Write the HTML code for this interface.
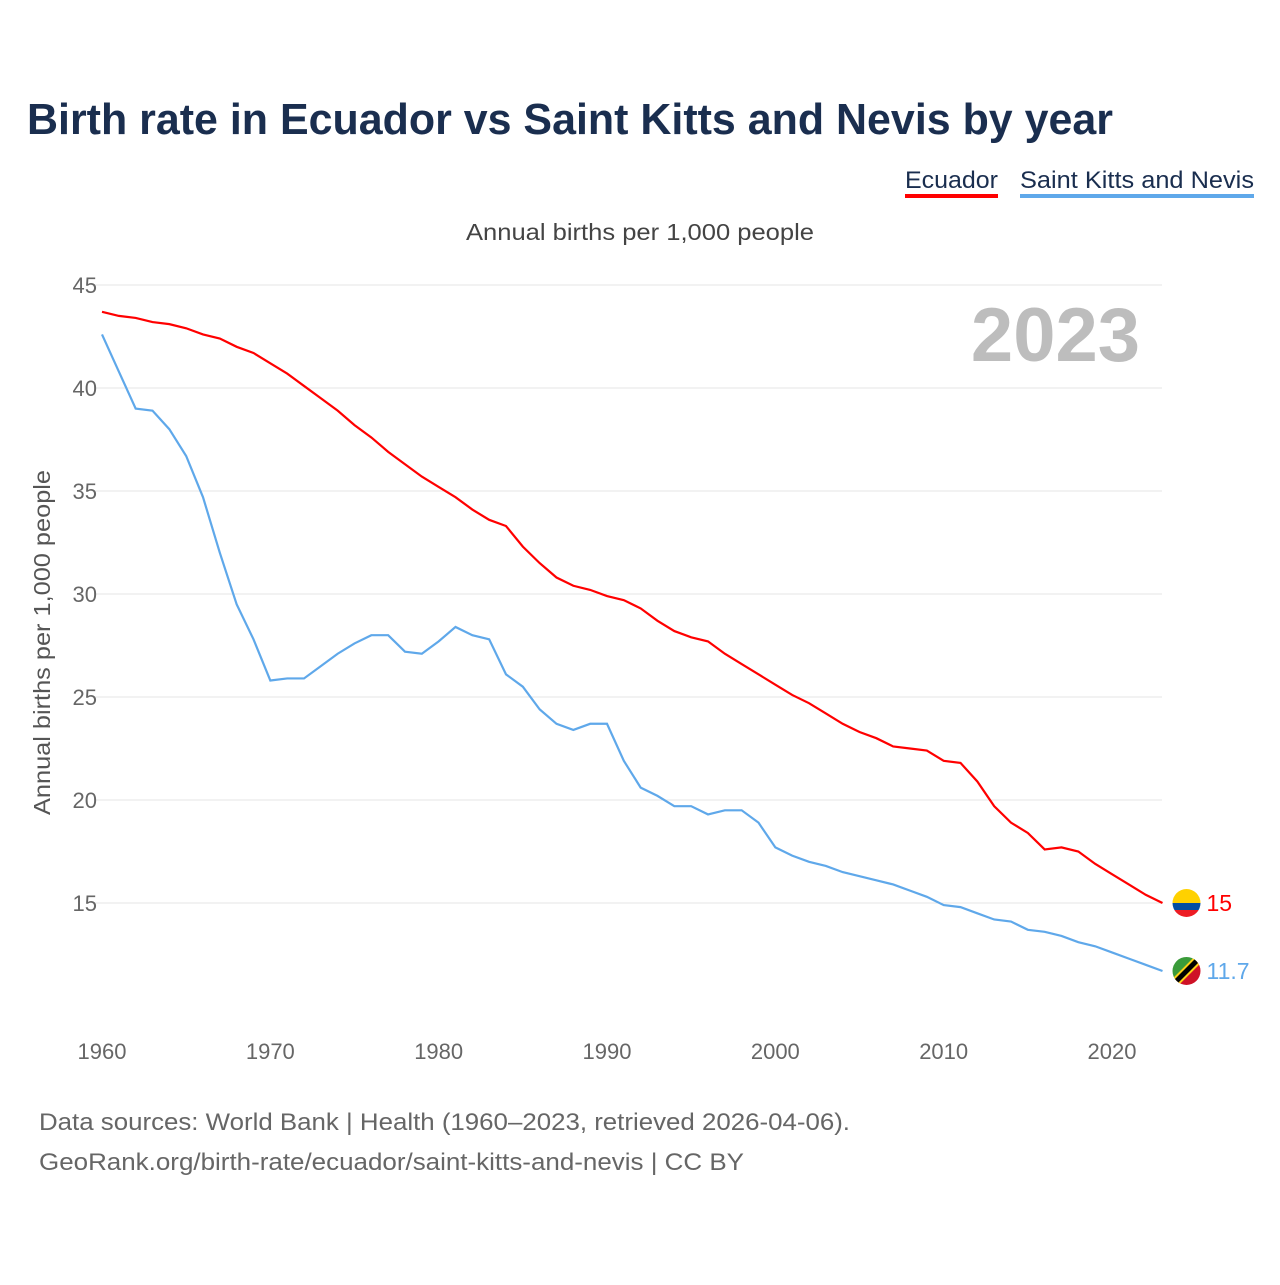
<!DOCTYPE html>
<html><head><meta charset="utf-8"><style>
body{margin:0;background:#fff;font-family:"Liberation Sans",sans-serif}
</style></head><body>
<svg id="chart" width="1280" height="1280" xmlns="http://www.w3.org/2000/svg" font-family="Liberation Sans, sans-serif">
<rect width="1280" height="1280" fill="#fff"/>
<text x="27" y="134" font-size="44" font-weight="bold" fill="#1a2e4f" textLength="1086" lengthAdjust="spacingAndGlyphs">Birth rate in Ecuador vs Saint Kitts and Nevis by year</text>
<g><text x="905" y="188" font-size="24" fill="#1a2e4f" textLength="93" lengthAdjust="spacingAndGlyphs">Ecuador</text><rect x="905" y="194" width="93" height="4" fill="#ff0000"/></g>
<g><text x="1020" y="188" font-size="24" fill="#1a2e4f" textLength="234" lengthAdjust="spacingAndGlyphs">Saint Kitts and Nevis</text><rect x="1020" y="194" width="234" height="4" fill="#5fa8ea"/></g>
<text x="466" y="240" font-size="23" fill="#444" textLength="348" lengthAdjust="spacingAndGlyphs">Annual births per 1,000 people</text>
<text transform="translate(50,815) rotate(-90)" font-size="23" fill="#555" textLength="345" lengthAdjust="spacingAndGlyphs">Annual births per 1,000 people</text>
<text x="1140" y="361" font-size="76" font-weight="bold" fill="#bdbdbd" text-anchor="end">2023</text>
<g id="grid"></g><g id="lines"></g>
<text x="39" y="1130" font-size="24" fill="#666" textLength="811" lengthAdjust="spacingAndGlyphs">Data sources: World Bank | Health (1960–2023, retrieved 2026-04-06).</text>
<text x="39" y="1170" font-size="24" fill="#666" textLength="705" lengthAdjust="spacingAndGlyphs">GeoRank.org/birth-rate/ecuador/saint-kitts-and-nevis | CC BY</text>
</svg>
<script>
const years=[];for(let y=1960;y<=2023;y++)years.push(y);
const ecuador=[43.7,43.5,43.4,43.2,43.1,42.9,42.6,42.4,42.0,41.7,41.2,40.7,40.1,39.5,38.9,38.2,37.6,36.9,36.3,35.7,35.2,34.7,34.1,33.6,33.3,32.3,31.5,30.8,30.4,30.2,29.9,29.7,29.3,28.7,28.2,27.9,27.7,27.1,26.6,26.1,25.6,25.1,24.7,24.2,23.7,23.3,23.0,22.6,22.5,22.4,21.9,21.8,20.9,19.7,18.9,18.4,17.6,17.7,17.5,16.9,16.4,15.9,15.4,15.0];
const skn=[42.6,40.8,39.0,38.9,38.0,36.7,34.7,32.0,29.5,27.8,25.8,25.9,25.9,26.5,27.1,27.6,28.0,28.0,27.2,27.1,27.7,28.4,28.0,27.8,26.1,25.5,24.4,23.7,23.4,23.7,23.7,21.9,20.6,20.2,19.7,19.7,19.3,19.5,19.5,18.9,17.7,17.3,17.0,16.8,16.5,16.3,16.1,15.9,15.6,15.3,14.9,14.8,14.5,14.2,14.1,13.7,13.6,13.4,13.1,12.9,12.6,12.3,12.0,11.7];
const yTicks=[15,20,25,30,35,40,45];
const xTicks=[1960,1970,1980,1990,2000,2010,2020];
const NS="http://www.w3.org/2000/svg";
const X=y=>102+(y-1960)*1010/60, Y=v=>903-(v-15)*20.6;
const grid=document.getElementById('grid'), lines=document.getElementById('lines');
function mk(tag,attrs,parent,txt){const e=document.createElementNS(NS,tag);for(const k in attrs)e.setAttribute(k,attrs[k]);if(txt!==undefined)e.textContent=txt;parent.appendChild(e);return e;}
yTicks.forEach(t=>{
 const l=mk('line',{x1:95,x2:1162,y1:Y(t),y2:Y(t),stroke:'#e6e6e6','stroke-width':1},grid);
 
 
 const tx=mk('text',{x:97,y:Y(t)+8,'font-size':22,fill:'#666','text-anchor':'end'},grid,t);
 
 
});
xTicks.forEach(t=>{
 const tx=mk('text',{x:X(t),y:1059,'font-size':22,fill:'#666','text-anchor':'middle'},grid,t);
 
 
});
function series(vals,color,name,label,flag){
 const p=mk('polyline',{points:vals.map((v,i)=>X(years[i])+','+Y(v)).join(' '),fill:'none',stroke:color,'stroke-width':2.2},lines);
 
 
 const last=vals[vals.length-1];
 const cx=X(2023)+24, cy=Y(last);
 const g=mk('g',{},lines);
 
 
 const cid='clip-'+name;
 const cp=mk('clipPath',{id:cid},g); mk('circle',{cx:cx,cy:cy,r:14},cp);
 const fg=mk('g',{'clip-path':'url(#'+cid+')'},g);
 if(flag==='ec'){
  mk('rect',{x:cx-14,y:cy-14,width:28,height:14,fill:'#ffd100'},fg);
  mk('rect',{x:cx-14,y:cy,width:28,height:7,fill:'#034ea2'},fg);
  mk('rect',{x:cx-14,y:cy+7,width:28,height:7,fill:'#ed1c24'},fg);
 } else {
  mk('polygon',{points:(cx-14)+','+(cy-14)+' '+(cx+14)+','+(cy-14)+' '+(cx-14)+','+(cy+14),fill:'#3a9b3a'},fg);
  mk('polygon',{points:(cx+14)+','+(cy-14)+' '+(cx+14)+','+(cy+14)+' '+(cx-14)+','+(cy+14),fill:'#ce1126'},fg);
  mk('line',{x1:cx-14,y1:cy+14,x2:cx+14,y2:cy-14,stroke:'#fcd116','stroke-width':9},fg);
  mk('line',{x1:cx-14,y1:cy+14,x2:cx+14,y2:cy-14,stroke:'#000','stroke-width':5},fg);
 }
 const t=mk('text',{x:X(2023)+44,y:Y(last)+8,'font-size':23,fill:color},lines,label);
 
 
}
series(ecuador,'#ff0000','ecuador','15','ec');
series(skn,'#5fa8ea','saint-kitts','11.7','kn');
</script>
</body></html>
